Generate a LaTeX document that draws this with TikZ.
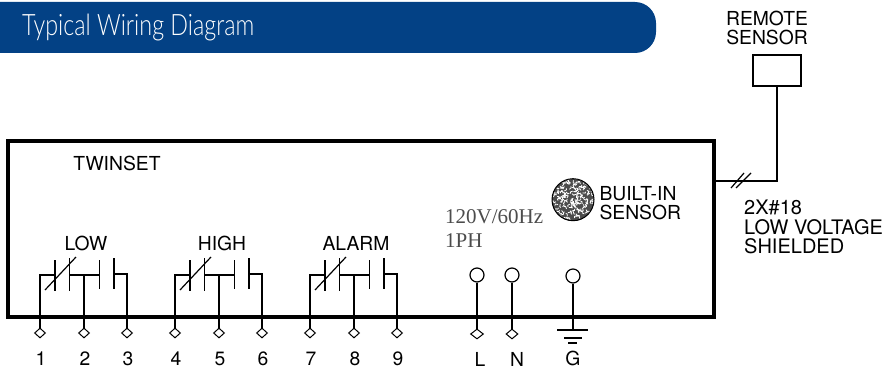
\documentclass[tikz,border=0pt]{standalone}
\usepackage{fontspec}
\setmainfont{TeX Gyre Heros}
\newfontfamily\voltfont{Liberation Serif}
\newfontfamily\titlefont[UprightFont=* Light, FakeStretch=0.79]{Lato}
\usetikzlibrary{shapes.geometric, positioning}
\definecolor{barblue}{HTML}{034185}
\tikzset{%
  % Specifications for style of nodes:
        label/.style = {inner sep=0pt, font=\fontsize{19.3}{19.5}\selectfont, align=left},
        volt/.style = {inner sep=0pt, text=black!70, font=\fontsize{21}{24}\voltfont\selectfont},
        term/.style = {diamond, draw=black, line width=1pt, fill=white,
                           inner sep=0pt, minimum width=11pt, minimum height=10pt},
        post/.style = {circle, draw=black, line width=1.2pt, fill=white,
                           inner sep=0pt, minimum size=14pt},
        wire/.style = {draw, line width=1.2pt},
        plate/.style = {draw, line width=1.2pt}
}
\begin{document}
\begin{tikzpicture}[x=1pt, y=-1pt]
  \useasboundingbox (0,0) rectangle (884,369);
  % title bar
  \fill[barblue] (0,2) [rounded corners=21pt] -- (656,2) -- (656,53) [sharp corners] -- (0,53) -- cycle;
  \node (title) [anchor=west, inner sep=0pt, text=white, font=\fontsize{29.5}{30}\titlefont\selectfont] at (22,28) {Typical Wiring Diagram};

  % Specification of nodes
  \node (unit) [draw, line width=3.2pt, minimum width=706pt, minimum height=176pt, inner sep=0pt] at (361,229) {};
  \node (twinset) [label] at (117,163) {TWINSET};
  \node (low)   [label] at (86,243) {LOW};
  \node (high)  [label] at (222,243) {HIGH};
  \node (alarm) [label] at (356,243) {ALARM};
  \node (volts) [volt, anchor=west] at (445,217) {120V/60Hz};
  \node (phase) [volt, anchor=west] at (445,241) {1PH};
  \node (builtin) [circle, line width=.6pt, minimum size=42pt, inner sep=0pt,
       fill=black!70] at (573,200) {};
  \node (builtintxt) [label, right=5pt of builtin, yshift=-3pt] {BUILT-IN\\SENSOR};
  \node (remote) [draw, line width=1.2pt, fill=white, minimum width=48pt, minimum height=31pt, inner sep=0pt] at (777,70.5) {};
  \node (remotetxt) [label, align=center] at (767,28) {REMOTE\\SENSOR};
  \node (cabletxt) [label, anchor=west, font=\fontsize{20}{19.5}\selectfont] at (744,227) {2X\#18\\LOW VOLTAGE\\SHIELDED};
  \coordinate (cable) at (713,181);

  % grain of the sensor
  \begin{scope}
    \clip (573,200) circle (20.5pt);
    \pgfmathsetseed{41}
    \foreach \i in {1,...,190}{
      \pgfmathsetmacro{\gx}{552+42*rnd}
      \pgfmathsetmacro{\gy}{179+42*rnd}
      \pgfmathsetmacro{\ga}{360*rnd}
      \draw[white, line width=.8pt] (\gx,\gy) -- ++(\ga:2.5pt) -- ++(\ga+70:1.5pt);
    }
  \end{scope}
  \draw[line width=1pt] (builtin.north) arc[start angle=90, end angle=450, radius=21pt];

  % contact groups
  \foreach \ox/\ta/\tb/\tc in {0/1/2/3, 135/4/5/6, 270/7/8/9}{
    \begin{scope}[xshift=\ox pt]
      \node (t\ta) [term] at (40,333) {};
      \node (t\tb) [term] at (84,333) {};
      \node (t\tc) [term] at (127,333) {};
      \node (n\ta) [label] at (41,359) {\ta};
      \node (n\tb) [label] at (85,359) {\tb};
      \node (n\tc) [label] at (128,359) {\tc};
      \draw[wire] (t\ta) -- (40,275) -- (55,275);
      \draw[wire] (t\tb) -- (84,275);
      \draw[wire] (69,275) -- (99,275);
      \draw[wire] (t\tc) -- (127,274) -- (114,274);
      \draw[plate] (55,260) -- (55,291);
      \draw[plate] (69.5,258) -- (69.5,291);
      \draw[plate] (99.5,260) -- (99.5,289);
      \draw[plate] (114,258) -- (114,289);
      \draw[plate] (45,290) -- (76,257);
    \end{scope}
  }

  % mains side
  \node (postL) [post] at (477,275) {};
  \node (postN) [post] at (512,275) {};
  \node (postG) [post] at (573,276) {};
  \node (tL) [term, minimum width=13pt, minimum height=10pt] at (477,334) {};
  \node (tN) [term, minimum width=12pt, minimum height=10pt] at (512,334) {};
  \node (earth) [inner sep=0pt, minimum size=0pt] at (573,330) {};
  \node (nL) [label] at (480,359.5) {L};
  \node (nN) [label] at (517,359.5) {N};
  \node (nG) [label] at (573,358) {G};
  \draw[wire] (postL) -- (tL);
  \draw[wire] (postN) -- (tN);
  \draw[wire] (postG) -- (earth);
  \draw[wire] (557,330) -- (588,330);
  \draw[wire] (564,338) -- (582,338);
  \draw[wire] (568,343) -- (577,343);

  % remote cable
  \draw[wire] (remote.south) |- (cable);
  \draw[plate] (731,188) -- (744,173);
  \draw[plate] (736,188) -- (751,173);
\end{tikzpicture}
\end{document}
